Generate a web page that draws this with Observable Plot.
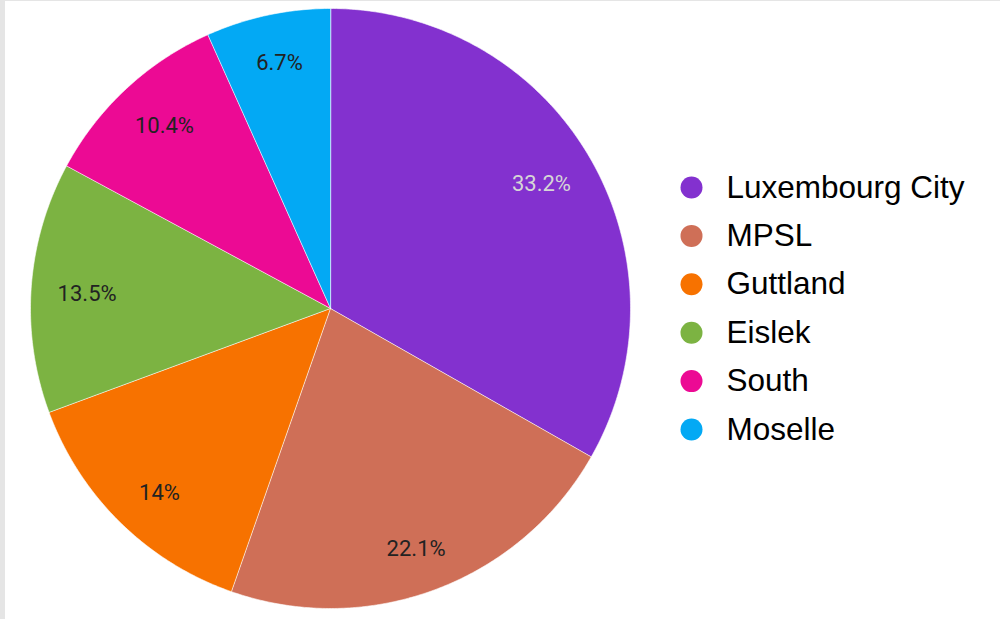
<!DOCTYPE html>
<html>
<head>
<meta charset="utf-8">
<script src="https://cdn.jsdelivr.net/npm/d3@7"></script>
<script src="https://cdn.jsdelivr.net/npm/@observablehq/plot@0.6"></script>
<style>
  html, body { margin: 0; padding: 0; background: #fff; }
  #wrap { position: relative; width: 1000px; height: 619px; overflow: hidden; }
  #edge { position: absolute; left: 0; top: 0; width: 1000px; height: 619px; box-sizing: border-box;
          border-left: 5px solid #e5e5e5; border-top: 1px solid #e5e5e5; pointer-events: none; }
</style>
</head>
<body>
<div id="wrap"><div id="edge"></div></div>
<script>
const categories = ["Luxembourg City", "MPSL", "Guttland", "Eislek", "South", "Moselle"];
const shares = [33.2, 22.1, 14, 13.5, 10.4, 6.7];
const labels = ["33.2%", "22.1%", "14%", "13.5%", "10.4%", "6.7%"];
const colors = ["#8331cf", "#cf6f57", "#f77200", "#7cb342", "#ec0a94", "#03a9f4"];
const labelColors = ["#d6d6d6", "#222", "#222", "#222", "#222", "#222"];

const W = 1000, H = 619;
const cx = 330, cy = 308, R = 300, RL = 244;

const pie = d3.pie().sort(null).value(d => d.share);
const rows = categories.map((c, i) => ({category: c, share: shares[i], label: labels[i], color: colors[i], labelColor: labelColors[i], i}));
const arcs = pie(rows);

// polygon points for each slice, derived from pie angles
const slicePts = [];
arcs.forEach(a => {
  const n = Math.max(2, Math.ceil((a.endAngle - a.startAngle) / 0.01));
  slicePts.push({category: a.data.category, x: cx, y: cy});
  for (let k = 0; k <= n; k++) {
    const t = a.startAngle + (a.endAngle - a.startAngle) * k / n;
    slicePts.push({category: a.data.category, x: cx + R * Math.sin(t), y: cy - R * Math.cos(t)});
  }
});

const labelPts = arcs.map(a => {
  const m = (a.startAngle + a.endAngle) / 2;
  return {label: a.data.label, fill: a.data.labelColor,
          x: cx + RL * Math.sin(m), y: cy + 3 - RL * Math.cos(m) * 1.04};
});

const legendX = 691, legendY0 = 187, legendStep = 48.4;
const legendPts = rows.map(r => ({category: r.category, x: legendX, y: legendY0 + r.i * legendStep}));

const chart = Plot.plot({
  width: W, height: H,
  margin: 0,
  x: {domain: [0, W], range: [0, W], axis: null},
  y: {domain: [0, H], range: [0, H], axis: null},
  color: {domain: categories, range: colors},
  style: {background: "transparent"},
  marks: [
    Plot.line(slicePts, {x: "x", y: "y", z: "category", fill: "category", stroke: "#fff", strokeWidth: 0.6, curve: "linear-closed"}),
    Plot.text(labelPts, {x: "x", y: "y", text: "label", fill: d => d.fill, fontSize: 22, fontFamily: "Roboto", textAnchor: "middle", lineAnchor: "middle"}),
    Plot.dot(legendPts, {x: "x", y: "y", r: 11, fill: "category"}),
    Plot.text(legendPts, {x: d => d.x + 35, y: "y", text: "category", fill: "#000", fontSize: 31.5, fontFamily: "Liberation Sans, Arial", textAnchor: "start", lineAnchor: "middle"})
  ]
});
document.getElementById("wrap").prepend(chart);
</script>
</body>
</html>
